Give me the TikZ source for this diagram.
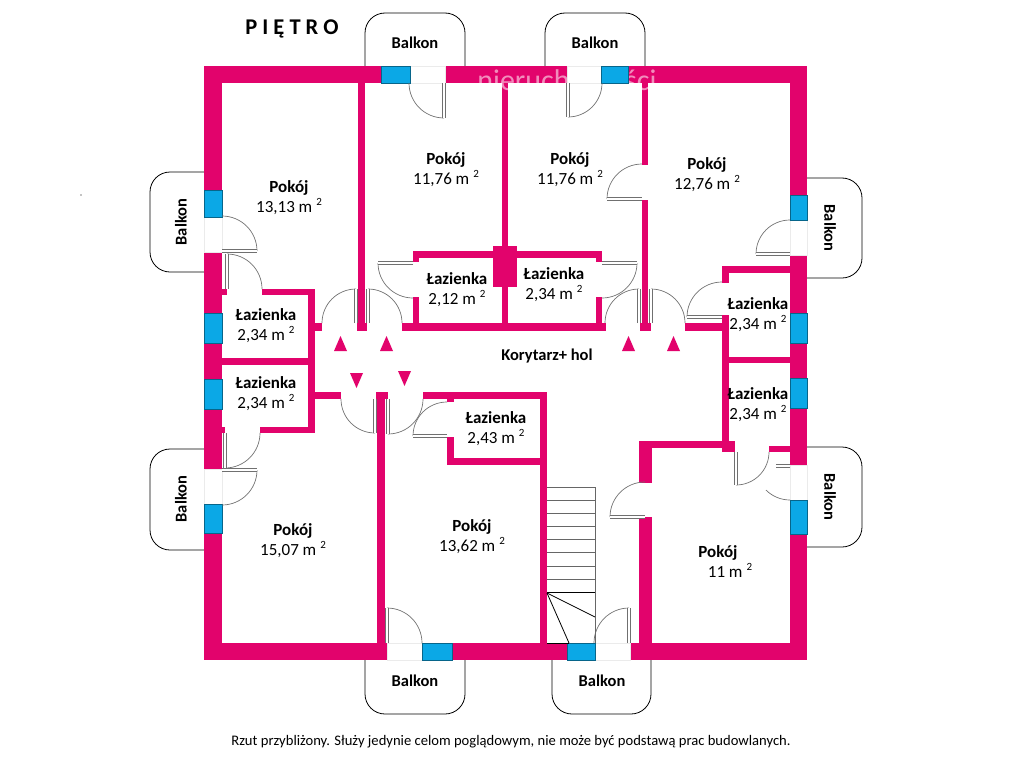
\documentclass[tikz,border=0pt]{standalone}
\usepackage{fontspec}
\setmainfont{Carlito}
\definecolor{wallpink}{HTML}{E2036C}
\definecolor{windowblue}{HTML}{0BA8E6}
\definecolor{leafgray}{HTML}{707070}
\newcommand{\kw}{\hspace{4pt}\raisebox{7pt}{\fontsize{11}{11}\selectfont 2}}
\newcommand{\door}[5][35]{%
  \draw[swing] (#2,#3) ++(#4:#1) arc[start angle=#4,end angle=#5,radius=#1];
  \draw[leafedge] (#2,#3) -- ++(#5:#1);
  \draw[leafcore] (#2,#3) -- ++(#5:#1);}
\begin{document}
\begin{tikzpicture}[x=1pt,y=-1pt,
    wall/.style={draw=none,fill=wallpink},
    gap/.style={draw=black!8,line width=0.5pt,fill=white},
    window/.style={draw=windowblue!60!black,line width=0.5pt,fill=windowblue},
    swing/.style={draw=black!55,line width=0.7pt},
    leafedge/.style={draw=leafgray,line width=3.2pt},
    leafcore/.style={draw=white,line width=1.4pt},
    balkon/.style={draw=black,line width=0.8pt,rounded corners=20pt},
    stepline/.style={draw=black!60,line width=0.8pt},
    room/.style={align=center,inner sep=0pt,yshift=-1.5pt,font=\fontsize{17}{20}\selectfont},
    tag/.style={inner sep=0pt,font=\fontsize{16.5}{18}\selectfont\bfseries}]
  \useasboundingbox[fill=white] (0,0) rectangle (1024,768);
  % balkony
  \draw[balkon] (365,66) |- (465,13) -- (465,66);
  \draw[balkon] (545,66) |- (645,13) -- (645,66);
  \draw[balkon] (204,172) -| (150,272) -- (204,272);
  \draw[balkon] (204,449) -| (150,550) -- (204,550);
  \draw[balkon] (807,178) -| (862,278) -- (807,278);
  \draw[balkon] (807,447) -| (862,547) -- (807,547);
  \draw[balkon] (365,660) |- (465,714) -- (465,660);
  \draw[balkon] (552,660) |- (651,714) -- (651,660);
  % sciany zewnetrzne
  \draw[wall] (204,66) rectangle (807,83);
  \draw[wall] (204,643) rectangle (807,660);
  \draw[wall] (204,66) rectangle (222,660);
  \draw[wall] (790,66) rectangle (807,660);
  % sciany wewnetrzne
  \draw[wall] (358,83) rectangle (365,331);
  \draw[wall] (357,323) rectangle (367,331);
  \draw[wall] (501.5,83) rectangle (508,331);
  \draw[wall] (493,246) rectangle (517,287);
  \draw[wall] (642,83) rectangle (648,165);
  \draw[wall] (642,200) rectangle (648,331);
  \draw[wall] (640,323) rectangle (651,331);
  \draw[wall] (402,323) rectangle (606,331);
  \draw[wall] (413,251) rectangle (602,258);
  \draw[wall] (413,251) rectangle (419,262);
  \draw[wall] (413,297) rectangle (419,323);
  \draw[wall] (596,251) rectangle (602,262);
  \draw[wall] (596,297) rectangle (602,323);
  \draw[wall] (222,289) rectangle (227,295);
  \draw[wall] (262,289) rectangle (315,295);
  \draw[wall] (308,289) rectangle (315,433);
  \draw[wall] (315,323) rectangle (322,331);
  \draw[wall] (222,358) rectangle (315,365);
  \draw[wall] (222,427) rectangle (225,433);
  \draw[wall] (260,427) rectangle (315,433);
  \draw[wall] (315,392) rectangle (341,399);
  \draw[wall] (376,392) rectangle (388,399);
  \draw[wall] (423,392) rectangle (547,399);
  \draw[wall] (377,392) rectangle (385,643);
  \draw[wall] (540,392) rectangle (547,643);
  \draw[wall] (447,392) rectangle (454,402);
  \draw[wall] (447,437) rectangle (454,465);
  \draw[wall] (447,458) rectangle (547,465);
  \draw[wall] (685,323) rectangle (722,331);
  \draw[wall] (722,266) rectangle (790,273);
  \draw[wall] (722,266) rectangle (729,283);
  \draw[wall] (722,315) rectangle (729,452);
  \draw[wall] (728,357) rectangle (790,363);
  \draw[wall] (639,441) rectangle (722,448);
  \draw[wall] (722,441) rectangle (735,452);
  \draw[wall] (769,446) rectangle (790,452);
  \draw[wall] (639,441) rectangle (652,483);
  \draw[wall] (639,517) rectangle (652,643);
  % napis na scianie
  \node[anchor=base,inner sep=0pt,text=white,opacity=0.55,font=\fontsize{30}{30}\selectfont] (znak) at (567,90) {nieruchomości};
  % otwory
  \draw[gap] (410,66) rectangle (445,83);
  \draw[gap] (567,66) rectangle (601,83);
  \draw[gap] (204,217) rectangle (222,252);
  \draw[gap] (204,469) rectangle (222,504);
  \draw[gap] (790,220) rectangle (807,255);
  \draw[gap] (790,465) rectangle (807,500);
  \draw[gap] (387,643) rectangle (422,660);
  \draw[gap] (595,643) rectangle (630,660);
  % okna
  \draw[window] (381,66) rectangle (410,83);
  \draw[window] (601,66) rectangle (628,83);
  \draw[window] (204,190) rectangle (222,217);
  \draw[window] (204,313) rectangle (222,343);
  \draw[window] (204,379) rectangle (222,409);
  \draw[window] (204,504) rectangle (222,533);
  \draw[window] (790,195) rectangle (807,220);
  \draw[window] (790,313) rectangle (807,343);
  \draw[window] (790,378) rectangle (807,408);
  \draw[window] (790,500) rectangle (807,534);
  \draw[window] (422,643) rectangle (452,660);
  \draw[window] (567,643) rectangle (595,660);
  % drzwi
  \door{444}{83}{180}{90}
  \door[34]{568}{83}{0}{90}
  \door{222}{251}{270}{360}
  \door{227}{289}{0}{-90}
  \door[34]{356}{323}{180}{270}
  \door[34]{368}{323}{0}{-90}
  \door{413}{263}{90}{180}
  \door{602}{263}{90}{0}
  \door[34]{639}{323}{180}{270}
  \door[34]{651}{323}{0}{-90}
  \door{642}{199}{270}{180}
  \door[34]{790}{254}{270}{180}
  \door{722}{317}{270}{180}
  \door{225}{433}{0}{90}
  \door{222}{470}{90}{0}
  \door[34]{375}{399}{180}{90}
  \door{388}{399}{0}{90}
  \door[34]{447}{436}{270}{180}
  \door{387}{643}{0}{-90}
  \door{629}{643}{180}{270}
  \door{645}{517}{270}{180}
  \door[33]{736}{452}{0}{90}
  \draw[swing] (790,500) arc[start angle=90,end angle=135,radius=34];
  \draw[leafedge] (776,466) -- (790,466);
  \draw[leafcore] (776,466) -- (790,466);
  % schody
  \foreach \y in {487,500,513,526,539,552,566,579}
    \draw[stepline] (547,\y) -- (595,\y);
  \draw[stepline,draw=black] (547,592) -- (595,592);
  \draw[stepline] (595,487) -- (595,643);
  \draw[stepline,draw=black] (547,593) -- (595,617);
  \draw[stepline,draw=black] (547,593) -- (569,643);
  \draw[stepline,draw=black] (547,643) -- (569,643);
  % strzalki
  \foreach \x in {334,380,622,667}
    \fill[wallpink] (\x,351) -- ++(6.5,-15) -- ++(6.5,15) -- cycle;
  \fill[wallpink] (350,373) -- ++(6.5,15) -- ++(6.5,-15) -- cycle;
  \fill[wallpink] (398,371) -- ++(6.5,15) -- ++(6.5,-15) -- cycle;
  % opisy
  \fill (81,195) circle[radius=0.6];
  \node[inner sep=0pt,font=\fontsize{22.5}{26}\selectfont\bfseries] (tytul) at (292,29) {P I Ę T R O};
  \node[tag] (balkon1) at (415,43) {Balkon};
  \node[tag] (balkon2) at (595,43) {Balkon};
  \node[tag,rotate=90] (balkon3) at (181,222) {Balkon};
  \node[tag,rotate=90] (balkon4) at (181,499) {Balkon};
  \node[tag,rotate=-90] (balkon5) at (830,228) {Balkon};
  \node[tag,rotate=-90] (balkon6) at (830,497) {Balkon};
  \node[tag] (balkon7) at (415,681) {Balkon};
  \node[tag] (balkon8) at (602,681) {Balkon};
  \node[tag] (korytarz) at (547,356) {Korytarz+ hol};
  \node[room] (pokoj1) at (289,196) {\textbf{Pokój}\\13,13 m\kw};
  \node[room] (pokoj2) at (446,168) {\textbf{Pokój}\\11,76 m\kw};
  \node[room] (pokoj3) at (570,168) {\textbf{Pokój}\\11,76 m\kw};
  \node[room] (pokoj4) at (707,173) {\textbf{Pokój}\\12,76 m\kw};
  \node[room] (pokoj5) at (293,539) {\textbf{Pokój}\\15,07 m\kw};
  \node[room] (pokoj6) at (472,535) {\textbf{Pokój}\\13,62 m\kw};
  \node[room] (pokoj7) at (718,560) {\textbf{Pokój}\\\hspace*{24pt}11 m\kw};
  \node[room] (lazienka1) at (457,288) {\textbf{Łazienka}\\2,12 m\kw};
  \node[room] (lazienka2) at (554,283) {\textbf{Łazienka}\\2,34 m\kw};
  \node[room] (lazienka3) at (266,324) {\textbf{Łazienka}\\2,34 m\kw};
  \node[room] (lazienka4) at (266,392) {\textbf{Łazienka}\\2,34 m\kw};
  \node[room] (lazienka5) at (496,427) {\textbf{Łazienka}\\2,43 m\kw};
  \node[room] (lazienka6) at (758,313) {\textbf{Łazienka}\\2,34 m\kw};
  \node[room] (lazienka7) at (758,403) {\textbf{Łazienka}\\2,34 m\kw};
  \node[inner sep=0pt,font=\fontsize{14.6}{16}\selectfont] (uwaga) at (511,742) {Rzut przybliżony. Służy jedynie celom poglądowym, nie może być podstawą prac budowlanych.};
\end{tikzpicture}
\end{document}
